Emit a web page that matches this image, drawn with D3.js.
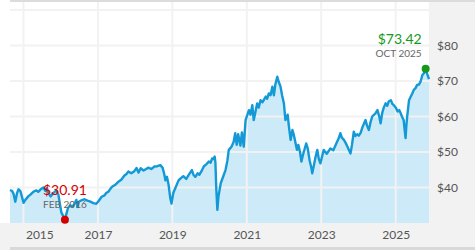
<!DOCTYPE html>
<html>
<head>
<meta charset="utf-8">
<script src="https://cdn.jsdelivr.net/npm/d3@7"></script>
<style>
  body { margin: 0; background: #fff; }
  svg { display: block; font-family: Lato, "Open Sans", sans-serif; }
</style>
</head>
<body>
<div id="svgContainer"><svg></svg></div>
<script>
// price history
const dates = [
  "2014-08-22","2014-09-12","2014-09-26","2014-10-13","2014-10-31","2014-11-14","2014-12-02","2014-12-16",
  "2015-01-02","2015-01-19","2015-02-17","2015-03-10","2015-04-08","2015-05-08","2015-05-26","2015-06-24",
  "2015-07-16","2015-08-04","2015-08-19","2015-09-02","2015-09-24","2015-10-23","2015-11-20","2015-12-10",
  "2015-12-24","2016-01-08","2016-01-29","2016-02-12","2016-02-26","2016-03-14","2016-04-05","2016-04-27",
  "2016-05-15","2016-06-03","2016-06-14","2016-06-28","2016-07-23","2016-08-22","2016-09-20","2016-10-19",
  "2016-11-17","2016-12-16","2017-01-08","2017-02-06","2017-03-07","2017-03-25","2017-04-13","2017-05-05",
  "2017-05-23","2017-06-21","2017-07-20","2017-08-18","2017-09-16","2017-10-08","2017-10-27","2017-11-24",
  "2017-12-24","2018-01-15","2018-02-03","2018-02-24","2018-03-25","2018-04-23","2018-05-11","2018-06-09",
  "2018-07-08","2018-08-07","2018-09-05","2018-09-27","2018-10-12","2018-10-26","2018-11-09","2018-11-24",
  "2018-12-12","2018-12-24","2019-01-11","2019-02-02","2019-03-03","2019-03-21","2019-04-19","2019-05-18",
  "2019-06-09","2019-07-12","2019-07-27","2019-08-15","2019-09-06","2019-09-24","2019-10-20","2019-11-07",
  "2019-12-03","2019-12-25","2020-01-12","2020-01-27","2020-02-10","2020-02-21","2020-02-28","2020-03-07",
  "2020-03-18","2020-03-29","2020-04-20","2020-05-08","2020-06-06","2020-06-24","2020-07-08","2020-08-04",
  "2020-08-25","2020-09-09","2020-09-24","2020-10-08","2020-10-30","2020-11-14","2020-12-02","2020-12-20",
  "2021-01-22","2021-02-06","2021-02-24","2021-03-10","2021-03-28","2021-04-13","2021-04-28","2021-05-16",
  "2021-06-03","2021-07-06","2021-07-20","2021-08-05","2021-08-22","2021-09-09","2021-09-24","2021-10-08",
  "2021-10-27","2021-11-10","2021-11-28","2021-12-13","2021-12-31","2022-01-15","2022-02-06","2022-02-17",
  "2022-03-07","2022-03-25","2022-04-06","2022-05-08","2022-05-22","2022-06-07","2022-06-21","2022-07-09",
  "2022-08-07","2022-08-22","2022-09-09","2022-09-27","2022-10-05","2022-10-23","2022-11-06","2022-11-24",
  "2022-12-09","2022-12-24","2023-01-08","2023-01-26","2023-02-24","2023-03-14","2023-04-01","2023-04-30",
  "2023-06-06","2023-06-24","2023-07-08","2023-07-24","2023-08-12","2023-08-30","2023-09-16","2023-10-01",
  "2023-10-16","2023-10-30","2023-11-17","2023-12-03","2023-12-20","2024-01-05","2024-01-22","2024-02-10",
  "2024-03-11","2024-03-25","2024-04-13","2024-04-30","2024-05-16","2024-06-03","2024-06-19","2024-07-06",
  "2024-07-24","2024-08-06","2024-08-22","2024-09-06","2024-09-24","2024-10-10","2024-10-24","2024-11-15",
  "2024-11-30","2024-12-14","2025-01-02","2025-01-20","2025-02-05","2025-02-18","2025-03-03","2025-03-20",
  "2025-03-31","2025-04-08","2025-04-16","2025-04-24","2025-05-12","2025-05-27","2025-06-13","2025-06-28",
  "2025-07-15","2025-07-31","2025-08-17","2025-09-02","2025-09-20","2025-10-05","2025-10-22","2025-11-06",
  "2025-11-24"
];
const prices = [
  39.3, 39.0, 38.2, 36.0, 38.5, 39.5, 39.0, 37.5,
  35.7, 36.5, 37.5, 38.0, 38.8, 39.2, 38.8, 39.6,
  40.0, 39.0, 39.8, 38.5, 37.5, 38.5, 39.2, 38.0,
  35.5, 33.0, 31.8, 30.91, 32.5, 34.3, 35.0, 34.6,
  35.4, 36.5, 34.5, 36.0, 36.4, 36.7, 36.3, 36.0,
  35.6, 35.4, 36.2, 37.4, 37.8, 38.5, 38.8, 39.7,
  40.3, 40.8, 41.6, 42.2, 43.3, 43.8, 44.5, 44.0,
  44.6, 45.5, 44.2, 45.4, 44.8, 45.3, 45.6, 45.2,
  45.9, 46.0, 46.3, 45.6, 44.0, 42.0, 43.0, 41.0,
  37.0, 35.5, 38.5, 40.0, 42.0, 42.5, 43.2, 42.4,
  43.5, 44.9, 43.6, 43.0, 44.0, 43.6, 44.9, 46.0,
  46.6, 47.3, 47.0, 48.2, 48.0, 48.7, 47.0, 40.0,
  33.7, 37.5, 41.2, 42.6, 44.9, 47.5, 50.6, 51.5,
  52.9, 55.3, 52.0, 55.0, 51.8, 55.5, 51.5, 59.0,
  61.8, 60.5, 63.2, 59.0, 61.5, 63.7, 62.5, 64.6,
  64.0, 65.6, 65.0, 66.5, 66.0, 68.4, 66.0, 69.0,
  71.2, 69.8, 68.4, 66.0, 63.7, 59.0, 60.5, 57.5,
  53.4, 56.2, 55.0, 50.6, 52.0, 50.0, 47.3, 49.5,
  52.4, 51.0, 47.7, 45.5, 44.0, 46.5, 48.5, 50.6,
  48.0, 46.8, 48.5, 50.6, 49.5, 50.2, 51.0, 50.5,
  52.9, 54.0, 55.3, 54.0, 53.4, 52.5, 51.5, 50.5,
  49.6, 52.0, 55.7, 54.5, 55.0, 54.6, 55.3, 57.0,
  59.0, 57.5, 56.2, 58.5, 60.0, 60.5, 61.0, 61.8,
  60.0, 58.1, 61.0, 62.5, 63.7, 63.0, 64.2, 64.6,
  63.5, 63.2, 62.5, 61.4, 61.8, 61.0, 60.0, 59.0,
  56.0, 53.9, 57.5, 60.0, 64.6, 65.5, 66.5, 67.5,
  68.0, 68.9, 69.0, 69.8, 71.7, 72.2, 73.42, 72.0,
  70.5
];
const yTickValues = [40, 50, 60, 70, 80];
const yGridValues = [40, 50, 60, 70, 80, 90];
const xTickYears = [2015, 2017, 2019, 2021, 2023, 2025];

function chart() {
    const width = 475;
    const height = 250;
    const marginLeft = 10;
    const marginRight = 46;   // grey price column
    const marginTop = 2;
    const marginBottom = 27;  // grey year strip

    const data = dates.map((d, i) => ({date: d3.utcParse("%Y-%m-%d")(d), price: prices[i]}));

    const x = d3.scaleUtc()
        .domain(d3.extent(data, d => d.date))
        .range([marginLeft, width - marginRight]);

    const y = d3.scaleLinear()
        .domain([30, 90])
        .range([height - marginBottom, 10]);

    const svg = d3.select("#svgContainer").select("svg")
        .attr("width", width)
        .attr("height", height)
        .attr("viewBox", [0, 0, width, height]);

    // panels
    svg.append("rect").attr("width", width).attr("height", height).attr("fill", "#fff");
    svg.append("rect")
        .attr("x", width - marginRight).attr("y", marginTop)
        .attr("width", marginRight).attr("height", height - marginTop)
        .attr("fill", "#f2f2f2");
    svg.append("rect")
        .attr("x", 0).attr("y", height - marginBottom)
        .attr("width", width).attr("height", marginBottom)
        .attr("fill", "#f2f2f2");
    svg.append("rect")
        .attr("x", marginLeft).attr("y", 0)
        .attr("width", width - marginLeft).attr("height", 2)
        .attr("fill", "#dcdcdc");
    svg.append("rect")
        .attr("x", marginLeft).attr("y", height - 3)
        .attr("width", width - marginLeft).attr("height", 3)
        .attr("fill", "#d9d9d9");

    // area under the line
    const area = d3.area()
        .x(d => x(d.date))
        .y0(y(30))
        .y1(d => y(d.price));

    svg.append("path")
        .datum(data)
        .attr("fill", "#cdeaf8")
        .attr("d", area);

    // grid lines, drawn over the area
    const xTicks = xTickYears.map(yr => new Date(Date.UTC(yr, 0, 1)));
    svg.append("g")
        .selectAll("line")
        .data(xTicks)
        .join("line")
        .attr("x1", d => x(d)).attr("x2", d => x(d))
        .attr("y1", marginTop).attr("y2", height - marginBottom)
        .attr("stroke", "#f2f2f2")
        .attr("stroke-width", 2);

    svg.append("g")
        .selectAll("line")
        .data(yGridValues)
        .join("line")
        .attr("x1", marginLeft).attr("x2", width - marginRight)
        .attr("y1", d => y(d)).attr("y2", d => y(d))
        .attr("stroke", "#f2f2f2")
        .attr("stroke-width", 2);

    // price line
    const line = d3.line()
        .x(d => x(d.date))
        .y(d => y(d.price));

    svg.append("path")
        .datum(data)
        .attr("fill", "none")
        .attr("stroke", "#1299d6")
        .attr("stroke-width", 2.4)
        .attr("stroke-linejoin", "round")
        .attr("d", line);

    // right axis ($)
    svg.append("g")
        .attr("transform", `translate(${width - marginRight + 8},0)`)
        .call(d3.axisRight(y).tickValues(yTickValues).tickFormat(d => "$" + d).tickSize(0))
        .call(g => g.select(".domain").remove())
        .call(g => g.selectAll("text")
            .attr("x", 0)
            .attr("font-size", 12)
            .attr("font-family", "Lato, sans-serif")
            .attr("fill", "#555"));

    // bottom axis (years)
    svg.append("g")
        .attr("transform", `translate(0,${height - marginBottom})`)
        .call(d3.axisBottom(x).tickValues(xTicks).tickFormat(d3.utcFormat("%Y")).tickSize(0))
        .call(g => g.select(".domain").remove())
        .call(g => g.selectAll("text")
            .attr("y", 7)
            .attr("font-size", 12)
            .attr("font-family", "Lato, sans-serif")
            .attr("fill", "#555"))
        // first label would hit the left edge, so push it right
        .call(g => g.select(".tick text").attr("text-anchor", "start").attr("x", 2));

    // min / max markers
    const fmt = d3.utcFormat("%b %Y");
    const lo = d3.least(data, d => d.price);
    const hi = d3.greatest(data, d => d.price);
    const marks = [
        {d: lo, color: "#d40000"},
        {d: hi, color: "#14991a"}
    ];

    marks.forEach(m => {
        const cx = x(m.d.date), cy = y(m.d.price);
        const nearRight = cx > width - marginRight - 40;
        const anchor = nearRight ? "end" : "middle";
        const tx = nearRight ? cx - 4 : cx;

        svg.append("circle")
            .attr("cx", cx).attr("cy", cy).attr("r", 4)
            .attr("fill", m.color);

        svg.append("text")
            .attr("x", tx).attr("y", cy - 25)
            .attr("text-anchor", anchor)
            .attr("font-size", 14)
            .attr("fill", m.color)
            .text("$" + m.d.price.toFixed(2));

        svg.append("text")
            .attr("x", tx).attr("y", cy - 12)
            .attr("text-anchor", anchor)
            .attr("font-size", 10)
            .attr("fill", "#666")
            .text(fmt(m.d.date).toUpperCase());
    });

    return svg.node();
}

chart();
</script>
</body>
</html>
